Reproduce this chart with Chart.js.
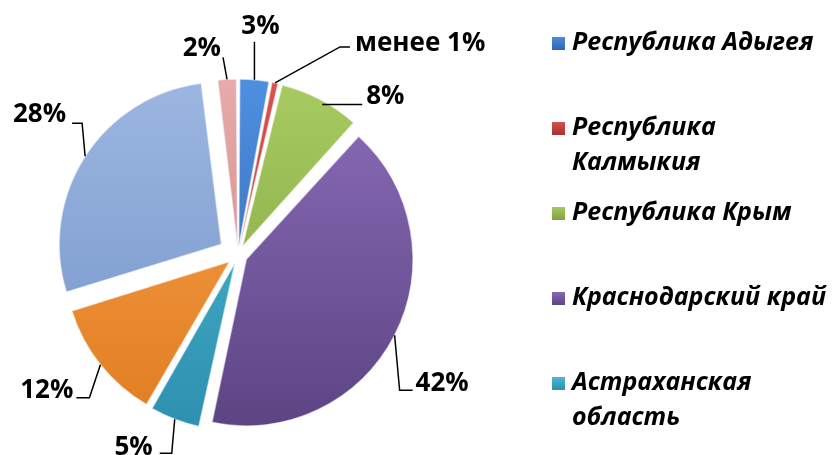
<!DOCTYPE html>
<html>
<head>
<meta charset="utf-8">
<script src="https://cdn.jsdelivr.net/npm/chart.js@4.4.0/dist/chart.umd.min.js"></script>
<style>
  html, body { margin: 0; padding: 0; background: #fff; }
  #wrap { width: 839px; height: 455px; }
</style>
</head>
<body>
<div id="wrap"><canvas id="my-chart" width="839" height="455"></canvas></div>
<script>
// ======== data ========
const regions = ['Республика Адыгея', 'Республика Калмыкия', 'Республика Крым', 'Краснодарский край',
    'Астраханская область', 'Волгоградская область', 'Ростовская область', 'г. Севастополь']
const shares = [3, 0.8, 8, 42, 5, 12, 28, 2]
const shareLabels = ['3%', 'менее 1%', '8%', '42%', '5%', '12%', '28%', '2%']
const legendCount = 5 // the legend in the original only shows the first five

// ======== styles ========
const topColors = ['#4F8FE0', '#D9534F', '#A9CB63', '#8A6CB8', '#4FBBD8', '#F8A24E', '#9DB7E2', '#E8AAAA']
const bottomColors = ['#2E66B0', '#A8322E', '#7FA23E', '#5C4483', '#2C8FAD', '#E07C20', '#7596C8', '#C98484']
const shifts = [14, 14, 14, 14, 14, 14, 20, 14] // how far each slice is pulled out (px)

// leader lines, relative to the slice edge at its middle angle
const leaders = [
    { pts: [[0, 0], [0, -38]], text: [6, -53], align: 'center' },
    { pts: [[0, 0], [65, -36], [75, -36]], text: [80, -39], align: 'left' },
    { pts: [[2, 5], [42, 5]], text: [46, -3], align: 'left' },
    { pts: [[0, 0], [5, 55], [18, 55]], text: [21, 48], align: 'left' },
    { pts: [[0, 0], [-3, 34], [-15, 34]], text: [-22, 28], align: 'right' },
    { pts: [[0, 0], [-11, 33], [-24, 33]], text: [-27, 26], align: 'right' },
    { pts: [[0, 0], [-3, -33], [-13, -33]], text: [-19, -42], align: 'right' },
    { pts: [[0, 0], [-4, -22]], text: [-6, -31], align: 'right' }
]

const total = shares.reduce((a, b) => a + b, 0)

// Chart.js moves an arc by offset/4 * (2 - sin(circ)), so turn the wanted shift into an offset
const sliceOffset = (i) => {
    const circ = shares[i] / total * Math.PI * 2
    return shifts[i] * 4 / (2 - Math.sin(Math.min(Math.PI, circ)))
}

const sliceFill = (ctx) => {
    const area = ctx.chart.chartArea
    const i = ctx.dataIndex
    if (!area) return topColors[i]
    const g = ctx.chart.ctx.createLinearGradient(0, area.top, 0, area.bottom)
    g.addColorStop(0, topColors[i])
    g.addColorStop(1, bottomColors[i])
    return g
}

// labels with leader lines
const sliceLabels = {
    id: 'sliceLabels',
    afterDatasetsDraw(chart) {
        const ctx = chart.ctx
        const meta = chart.getDatasetMeta(0)
        ctx.save()
        ctx.strokeStyle = '#000'
        ctx.lineWidth = 1.5
        ctx.fillStyle = '#000'
        ctx.font = 'bold 26px "Open Sans"'
        ctx.textBaseline = 'middle'
        meta.data.forEach((arc, i) => {
            const p = arc.getProps(['x', 'y', 'startAngle', 'endAngle', 'outerRadius'], true)
            const mid = (p.startAngle + p.endAngle) / 2
            const off = sliceOffset(i)
            const circ = p.endAngle - p.startAngle
            const shift = off / 4 + off / 4 * (1 - Math.sin(Math.min(Math.PI, circ)))
            const ax = p.x + Math.cos(mid) * (shift + p.outerRadius)
            const ay = p.y + Math.sin(mid) * (shift + p.outerRadius)
            const L = leaders[i]
            ctx.beginPath()
            L.pts.forEach(([dx, dy], k) => {
                if (k === 0) ctx.moveTo(ax + dx, ay + dy)
                else ctx.lineTo(ax + dx, ay + dy)
            })
            ctx.stroke()
            ctx.textAlign = L.align
            ctx.fillText(shareLabels[i], ax + L.text[0], ay + L.text[1])
        })
        ctx.restore()
    }
}

// legend on the right, drawn by hand so long names can wrap like the original
const sideLegend = {
    id: 'sideLegend',
    afterDraw(chart) {
        const ctx = chart.ctx
        const boxX = 552, textX = 572, firstY = 43, stepY = 85, lineH = 35
        const maxW = chart.width - textX - 2
        ctx.save()
        ctx.font = 'italic bold 25px "Open Sans"'
        ctx.textBaseline = 'middle'
        ctx.textAlign = 'left'
        for (let i = 0; i < legendCount; i++) {
            const y = firstY + stepY * i
            const g = ctx.createLinearGradient(0, y - 7, 0, y + 7)
            g.addColorStop(0, topColors[i])
            g.addColorStop(1, bottomColors[i])
            ctx.fillStyle = g
            ctx.fillRect(boxX, y - 6, 13, 13)

            // wrap words that do not fit
            const lines = []
            let cur = ''
            regions[i].split(' ').forEach(w => {
                const test = cur ? cur + ' ' + w : w
                if (cur && ctx.measureText(test).width > maxW) {
                    lines.push(cur)
                    cur = w
                } else cur = test
            })
            lines.push(cur)

            ctx.fillStyle = '#000'
            lines.forEach((ln, k) => ctx.fillText(ln, textX, y + k * lineH))
        }
        ctx.restore()
    }
}

new Chart(document.getElementById('my-chart'), {
    type: 'pie',
    data: {
        labels: regions,
        datasets: [{
            data: shares,
            backgroundColor: sliceFill,
            borderColor: 'rgba(255,255,255,0.55)',
            borderWidth: 1.5,
            offset: (ctx) => sliceOffset(ctx.dataIndex),
            hoverOffset: 0,
            radius: 162
        }]
    },
    options: {
        responsive: false,
        animation: false,
        layout: { padding: { left: 66, right: 429, top: 83, bottom: 28 } },
        plugins: {
            legend: { display: false },
            tooltip: { enabled: false }
        }
    },
    plugins: [sliceLabels, sideLegend]
})
</script>
</body>
</html>
